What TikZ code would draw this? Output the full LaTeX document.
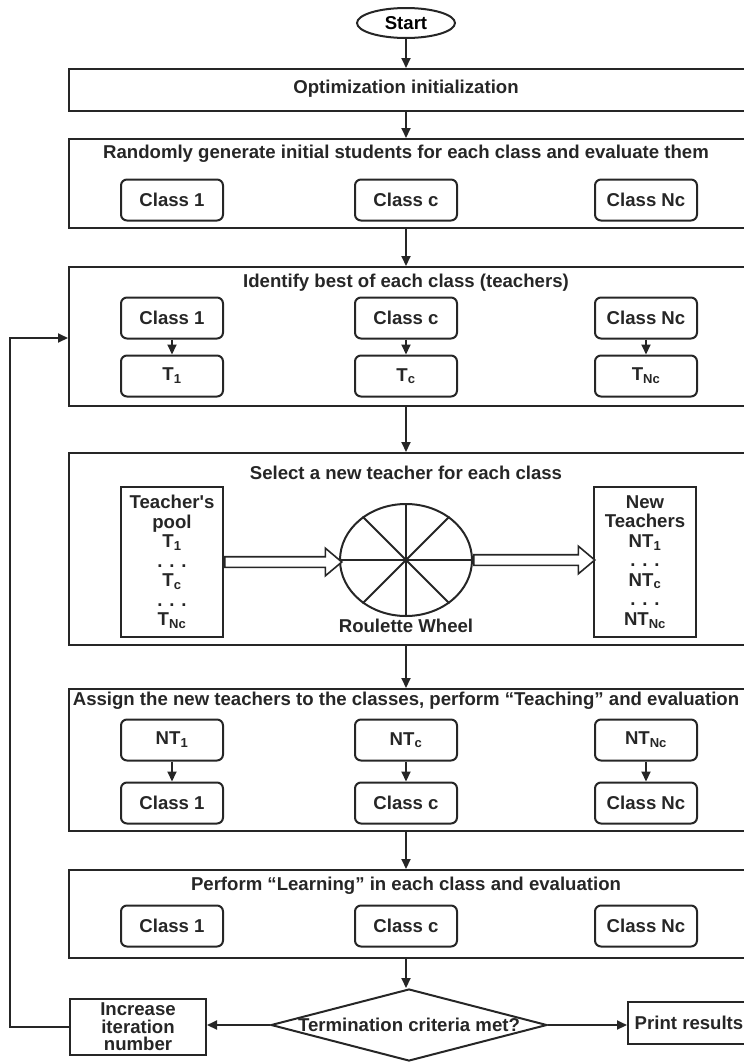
\documentclass[tikz,border=0pt]{standalone}
\usepackage{fontspec}
\setmainfont{Liberation Sans}
\usetikzlibrary{positioning, calc, arrows.meta, shapes.geometric, shapes.arrows}
\definecolor{Dark}{HTML}{262626}
\newcommand{\boxfont}{\bfseries\fontsize{18.6}{19.5}\selectfont}
\newcommand{\idx}[1]{\textsubscript{#1}}
\tikzset{
    framebox/.style={rectangle, draw=Dark, line width=2pt, anchor=north west, inner sep=0pt},
    classnode/.style={rectangle, rounded corners=6pt, draw=Dark, line width=2pt, minimum width=102pt, minimum height=41pt, font=\boxfont, text=Dark},
    listnode/.style={rectangle, draw=Dark, line width=2pt, minimum width=102pt, minimum height=150pt, align=center, font=\boxfont, text=Dark},
    plainnode/.style={rectangle, draw=Dark, line width=2pt, align=center, font=\boxfont, text=Dark, inner sep=0pt},
    titletext/.style={font=\boxfont, text=Dark, inner sep=0pt},
    arrow/.style={-{Triangle[length=10pt, width=9pt]}, line width=2pt, draw=Dark},
    fatarrow/.style={single arrow, draw=Dark, line width=1.6pt, fill=white, inner sep=4.5pt, single arrow head extend=8.5pt, single arrow tip angle=80, anchor=west},
    wheelnode/.style={ellipse, draw=Dark, line width=2pt, minimum width=132pt, minimum height=112pt, inner sep=0pt},
    decision/.style={diamond, draw=Dark, line width=2pt, minimum width=276pt, minimum height=72pt, inner sep=0pt},
}

\begin{document}
\begin{tikzpicture}[x=1pt, y=-1pt]
    \useasboundingbox (0,0) rectangle (744,1063);

    % --- Start ---
    \node[ellipse, draw=Dark, line width=2pt, minimum width=98pt, minimum height=30pt, inner sep=0pt, font=\boxfont] (start) at (406,23) {Start};

    % --- Blocco 1: inizializzazione ---
    \node[framebox, minimum width=692pt, minimum height=42pt] (opt) at (68,68) {};
    \node[titletext] (opttitle) at (406,89) {Optimization initialization};

    % --- Blocco 2: studenti iniziali ---
    \node[framebox, minimum width=692pt, minimum height=89pt] (rand) at (68,138) {};
    \node[titletext] (randtitle) at (406,154) {Randomly generate initial students for each class and evaluate them};
    \foreach \n/\x/\t in {1/172/Class 1, c/406/Class c, N/646/Class Nc}
        \node[classnode] (rand\n) at (\x,200) {\t};

    % --- Blocco 3: insegnanti ---
    \node[framebox, minimum width=692pt, minimum height=139pt] (ident) at (68,266) {};
    \node[titletext] (identtitle) at (406,283) {Identify best of each class (teachers)};
    \foreach \n/\x/\t/\s in {1/172/Class 1/1, c/406/Class c/c, N/646/Class Nc/Nc} {
        \node[classnode] (idc\n) at (\x,318) {\t};
        \node[classnode] (idt\n) at (\x,376) {T\idx{\s}};
        \draw[arrow] (idc\n) -- (idt\n);
    }

    % --- Blocco 4: roulette ---
    \node[framebox, minimum width=692pt, minimum height=192pt] (select) at (68,452) {};
    \node[titletext] (selecttitle) at (406,473) {Select a new teacher for each class};
    \node[listnode] (pool) at (172,562) {Teacher\textquotesingle s\\pool\\T\idx{1}\\. . .\\T\idx{c}\\. . .\\T\idx{Nc}};
    \node[listnode] (newpool) at (645,562) {New\\Teachers\\NT\idx{1}\\. . .\\NT\idx{c}\\. . .\\NT\idx{Nc}};
    \node[wheelnode] (wheel) at (406,560) {};
    \draw[line width=2pt, Dark] (wheel.north) -- (wheel.south);
    \draw[line width=2pt, Dark] (wheel.west) -- (wheel.east);
    \draw[line width=2pt, Dark] (wheel.45) -- (wheel.225);
    \draw[line width=2pt, Dark] (wheel.135) -- (wheel.315);
    \node[titletext, below=2pt of wheel] (wheellabel) {Roulette Wheel};
    \node[fatarrow, minimum height=117pt] (poolarrow) at (pool.east) {};
    \node[fatarrow, minimum height=121pt] (wheelarrow) at (wheel.east) {};

    % --- Blocco 5: teaching ---
    \node[framebox, minimum width=692pt, minimum height=142pt] (assign) at (68,688) {};
    \node[titletext] (assigntitle) at (406,701) {Assign the new teachers to the classes, perform “Teaching” and evaluation};
    \foreach \n/\x/\t/\s in {1/172/Class 1/1, c/406/Class c/c, N/646/Class Nc/Nc} {
        \node[classnode] (ast\n) at (\x,740) {NT\idx{\s}};
        \node[classnode] (asc\n) at (\x,803) {\t};
        \draw[arrow] (ast\n) -- (asc\n);
    }

    % --- Blocco 6: learning ---
    \node[framebox, minimum width=692pt, minimum height=88pt] (learn) at (68,869) {};
    \node[titletext] (learntitle) at (406,886) {Perform “Learning” in each class and evaluation};
    \foreach \n/\x/\t in {1/172/Class 1, c/406/Class c, N/646/Class Nc}
        \node[classnode] (lc\n) at (\x,926) {\t};

    % --- Criterio di arresto ---
    \node[decision] (term) at (409,1025) {};
    \node[titletext] (termtext) at (term.center) {Termination criteria met?};
    \node[plainnode, minimum width=136pt, minimum height=56pt, font=\bfseries\fontsize{18.6}{17.5}\selectfont] (inc) at (138,1027) {Increase\\iteration\\number};
    \node[plainnode, anchor=west, minimum width=122pt, minimum height=42pt] (print) at (627,1023) {Print results};

    % --- Frecce ---
    \draw[arrow] (start) -- (opt.north -| start);
    \draw[arrow] (opt.south -| start) -- (rand.north -| start);
    \draw[arrow] (rand.south -| start) -- (ident.north -| start);
    \draw[arrow] (ident.south -| start) -- (select.north -| start);
    \draw[arrow] (select.south -| start) -- (assign.north -| start);
    \draw[arrow] (assign.south -| start) -- (learn.north -| start);
    \draw[arrow] (learn.south -| start) -- (term.north -| start);
    \draw[arrow] (term.west) -- (term.west -| inc.east);
    \draw[arrow] (term.east) -- (term.east -| print.west);
    \coordinate (loop) at (10,338);
    \draw[arrow] (inc.west) -| (loop) -- (loop -| ident.west);

\end{tikzpicture}
\end{document}
